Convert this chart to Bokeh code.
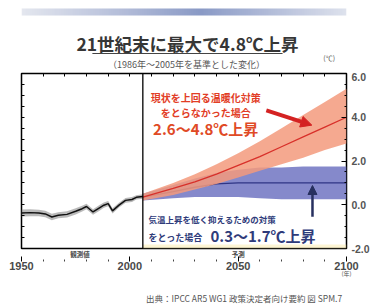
import numpy as np
from bokeh.plotting import figure
from bokeh.layouts import column
from bokeh.models import (LinearAxis, FixedTicker, Span, Label, Arrow, NormalHead,
                          BoxAnnotation, Range1d, NumeralTickFormatter)
from bokeh.embed import file_html
from bokeh.resources import INLINE

# ---------------- data ----------------
hist_years = [1950, 1954, 1958, 1961, 1964, 1967, 1971, 1975, 1978, 1980,
              1983, 1986, 1988, 1990, 1992, 1995, 1998, 2001, 2003, 2006]
hist_mean = [-0.38, -0.36, -0.38, -0.42, -0.56, -0.48, -0.44, -0.30, -0.18, -0.08,
             -0.33, -0.14, -0.02, 0.05, -0.28, -0.02, 0.20, 0.24, 0.34, 0.38]
hist_lo = [-0.54, -0.52, -0.53, -0.57, -0.71, -0.62, -0.58, -0.44, -0.31, -0.21,
           -0.46, -0.27, -0.14, -0.07, -0.40, -0.13, 0.09, 0.13, 0.24, 0.28]
hist_hi = [-0.22, -0.20, -0.23, -0.27, -0.41, -0.34, -0.30, -0.16, -0.05, 0.05,
           -0.20, -0.01, 0.10, 0.17, -0.16, 0.09, 0.31, 0.35, 0.44, 0.48]

proj_years = [2006, 2020, 2030, 2040, 2050, 2060, 2070, 2080, 2090, 2100]
rcp85_mean = [0.35, 0.75, 1.05, 1.40, 1.80, 2.20, 2.65, 3.10, 3.55, 4.00]
rcp85_lo = [0.20, 0.45, 0.70, 0.95, 1.25, 1.55, 1.85, 2.15, 2.50, 2.80]
rcp85_hi = [0.50, 1.00, 1.40, 1.85, 2.35, 2.90, 3.50, 4.10, 4.70, 5.30]
rcp26_mean = [0.35, 0.60, 0.80, 0.95, 1.00, 1.00, 1.00, 1.00, 1.00, 1.00]
rcp26_lo = [0.20, 0.30, 0.35, 0.35, 0.35, 0.30, 0.25, 0.25, 0.25, 0.25]
rcp26_hi = [0.50, 0.90, 1.20, 1.45, 1.60, 1.70, 1.70, 1.75, 1.75, 1.75]

x_ticks = [1950, 2000, 2050, 2100]
x_minor = [1960, 1970, 1980, 1990, 2010, 2020, 2030, 2040, 2060, 2070, 2080, 2090]
y_ticks = [-2, 0, 2, 4, 6]
y_minor = [-1.5, -1, -0.5, 0.5, 1, 1.5, 2.5, 3, 3.5, 4.5, 5, 5.5]
period_ticks = [1977, 2050]
period_labels = ["観測値", "予測"]
scenario_start = 2006

title_text = "21世紀末に最大で4.8℃上昇"
subtitle_text = "（1986年～2005年を基準とした変化）"
source_text = "出典：IPCC AR5 WG1 政策決定者向け要約 図 SPM.7"

JP = "Noto Sans CJK JP"
NUM = "Liberation Sans"
W = 376


def bare(fig):
    fig.axis.visible = False
    fig.grid.visible = False
    fig.outline_line_color = None
    fig.border_fill_color = "white"
    fig.background_fill_color = "white"


# ---------------- header (band, title, subtitle, unit) ----------------
HH = 72
head = figure(width=W, height=HH, x_range=Range1d(0, W), y_range=Range1d(0, HH),
              output_backend="svg", toolbar_location=None, min_border=0)
bare(head)
stops_pos = [0.0, 0.25, 0.55, 0.8, 1.0]
stops_rgb = np.array([[228, 231, 239], [190, 198, 222], [138, 154, 198],
                      [185, 194, 220], [222, 226, 237]])
n = 180
t = np.linspace(0, 1, n)
img = np.empty((1, n), dtype=np.uint32)
view = img.view(dtype=np.uint8).reshape((1, n, 4))
for c in range(3):
    view[0, :, c] = np.interp(t, stops_pos, stops_rgb[:, c]).astype(np.uint8)
view[0, :, 3] = 255
head.image_rgba(image=[img], x=0, y=HH - 15, dw=W, dh=7)

head.add_layout(Label(x=192, y=HH - 43, text=title_text, text_font=JP,
                      text_font_size="17.5px", text_font_style="bold",
                      text_color="#363636", text_align="center", text_baseline="middle"))
head.segment(x0=[82], y0=[HH - 53], x1=[302], y1=[HH - 53], line_color="#444444", line_width=1.2)
head.add_layout(Label(x=191, y=HH - 64, text=subtitle_text, text_font=JP,
                      text_font_size="9px", text_color="#555555",
                      text_align="center", text_baseline="middle"))
head.add_layout(Label(x=356, y=HH - 57, text="(℃)", text_font=JP,
                      text_font_size="7px", text_color="#555555",
                      text_align="center", text_baseline="middle"))

# ---------------- main chart ----------------
p = figure(width=W, height=211, x_range=Range1d(1950, 2100), y_range=Range1d(-2, 6),
           output_backend="svg", toolbar_location=None, y_axis_location="right",
           min_border_left=21, min_border_right=30, min_border_top=1, min_border_bottom=35)
p.grid.visible = False
p.outline_line_color = "black"
p.outline_line_width = 1.5
p.background_fill_color = "white"
p.border_fill_color = "white"

xa = p.xaxis[0]
xa.ticker = FixedTicker(ticks=x_ticks, minor_ticks=x_minor)
xa.major_tick_in = 5
xa.major_tick_out = 0
xa.minor_tick_in = 2
xa.minor_tick_out = 0
xa.axis_line_color = None
xa.major_tick_line_color = "black"
xa.minor_tick_line_color = "#444"
xa.major_label_standoff = 0
xa.major_label_text_font = NUM
xa.major_label_text_font_size = "11px"
xa.major_label_text_font_style = "bold"
xa.major_label_text_color = "#4a4a4a"

ya = p.yaxis[0]
ya.ticker = FixedTicker(ticks=y_ticks, minor_ticks=y_minor)
ya.formatter = NumeralTickFormatter(format="0.0")
ya.major_tick_in = 5
ya.major_tick_out = 0
ya.minor_tick_in = 2
ya.minor_tick_out = 0
ya.axis_line_color = None
ya.major_label_standoff = 5
ya.major_label_text_font = NUM
ya.major_label_text_font_size = "10.5px"
ya.major_label_text_font_style = "bold"
ya.major_label_text_color = "#555555"

left_ax = LinearAxis(ticker=FixedTicker(ticks=[], minor_ticks=y_ticks + y_minor),
                     minor_tick_in=3, minor_tick_out=0, axis_line_color=None,
                     major_label_standoff=0)
p.add_layout(left_ax, "left")
top_ax = LinearAxis(ticker=FixedTicker(ticks=[], minor_ticks=x_ticks + x_minor),
                    minor_tick_in=3, minor_tick_out=0, axis_line_color=None,
                    major_label_standoff=0)
p.add_layout(top_ax, "above")

# period labels row (observed / projected) just under the frame
period_ax = LinearAxis(ticker=FixedTicker(ticks=period_ticks),
                       major_label_overrides={k: v for k, v in zip(period_ticks, period_labels)},
                       major_tick_in=0, major_tick_out=0, axis_line_color=None,
                       major_label_standoff=0, major_label_text_font=JP,
                       major_label_text_font_size="6.5px", major_label_text_font_style="bold",
                       major_label_text_color="#4a4a4a")
# unit row under the last tick label
unit_ax = LinearAxis(ticker=FixedTicker(ticks=[2100]),
                     major_label_overrides={2100: "(年)"},
                     major_tick_in=0, major_tick_out=0, axis_line_color=None,
                     major_label_standoff=-4, major_label_text_font=JP,
                     major_label_text_font_size="6px", major_label_text_color="#555555")
p.below = [period_ax, xa, unit_ax]

# faint highlight of the projection period along the bottom edge
p.add_layout(BoxAnnotation(left=scenario_start, right=2100, bottom=-2, top=-1.82,
                           fill_color="#fbe9a0", fill_alpha=0.45, line_color=None))

# projections
p.varea(x=proj_years, y1=rcp26_lo, y2=rcp26_hi, fill_color="#7479c4", fill_alpha=0.88)
p.line(x=proj_years, y=rcp26_mean, line_color="#2f3585", line_width=1.3)
p.varea(x=proj_years, y1=rcp85_lo, y2=rcp85_hi, fill_color="#f39a7c", fill_alpha=0.85)
p.line(x=proj_years, y=rcp85_mean, line_color="#d8302a", line_width=1.3)

# observations
p.varea(x=hist_years, y1=hist_lo, y2=hist_hi, fill_color="#8c8c8c", fill_alpha=0.6)
p.line(x=hist_years, y=hist_mean, line_color="#111111", line_width=1.5)

p.add_layout(Span(location=scenario_start, dimension="height",
                  line_color="black", line_width=1.3))

# arrows
p.add_layout(Arrow(x_start=2063, y_start=4.31, x_end=2084, y_end=3.64,
                   line_color="#d42222", line_width=4,
                   end=NormalHead(size=11, fill_color="#d42222", line_color="#d42222")))
p.add_layout(Arrow(x_start=2084.3, y_start=-0.55, x_end=2084.3, y_end=0.88,
                   line_color="#27305f", line_width=2.5,
                   end=NormalHead(size=9, fill_color="#27305f", line_color="#27305f")))


def lab(text, x, y, size, color, align="center", bold=False):
    p.add_layout(Label(x=x, y=y, text=text, text_font=JP, text_font_size=size,
                       text_color=color, text_align=align, text_baseline="middle",
                       text_font_style="bold" if bold else "normal"))


RED = "#e23d26"
lab("現状を上回る温暖化対策", 2035, 4.92, "10px", RED, bold=True)
lab("をとらなかった場合", 2035, 4.22, "10px", RED, bold=True)
lab("2.6～4.8℃上昇", 2035, 3.47, "15px", "#e04a25", bold=True)

BLUE = "#2f3b7a"
lab("気温上昇を低く抑えるための対策", 2008.6, -0.63, "8.5px", BLUE, align="left", bold=True)
lab("をとった場合", 2008.6, -1.5, "9px", BLUE, align="left", bold=True)
lab("0.3～1.7℃上昇", 2037.2, -1.41, "15px", BLUE, align="left", bold=True)

# ---------------- footer (source) ----------------
FH = 22
foot = figure(width=W, height=FH, x_range=Range1d(0, W), y_range=Range1d(0, FH),
              output_backend="svg", toolbar_location=None, min_border=0)
bare(foot)
foot.add_layout(Label(x=371, y=FH - 14, text=source_text, text_font=JP,
                      text_font_size="8.5px", text_color="#555555",
                      text_align="right", text_baseline="middle"))

layout = column(head, p, foot, spacing=0)
open("out.html", "w").write(file_html(layout, INLINE))
